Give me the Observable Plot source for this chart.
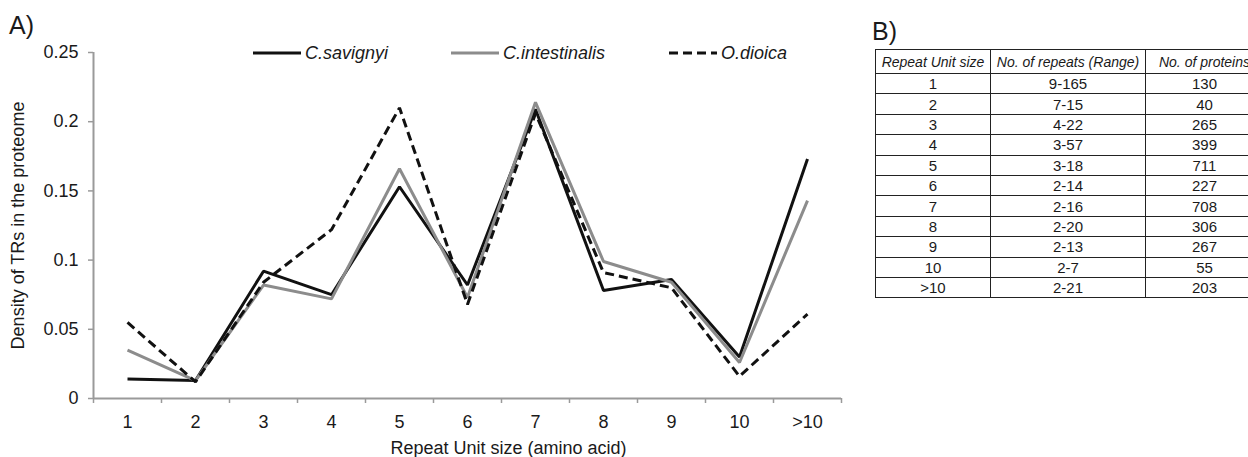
<!DOCTYPE html>
<html><head><meta charset="utf-8">
<script src="https://cdn.jsdelivr.net/npm/d3@7"></script>
<script src="https://cdn.jsdelivr.net/npm/@observablehq/plot@0.6"></script>
<style>
body{margin:0;background:#fff;font-family:"Liberation Sans",Arial,sans-serif;}
#wrap{position:relative;width:1248px;height:457px;overflow:hidden;background:#fff;}
#wrap svg.plot{position:absolute;left:0;top:0;}
.panel{position:absolute;font-size:25px;color:#1a1a1a;line-height:1;}
.leg{position:absolute;top:43px;height:20px;display:flex;align-items:center;font-size:18px;font-style:italic;color:#1a1a1a;white-space:nowrap;}
.leg svg{margin-right:4px;}
table{position:absolute;left:875px;top:49px;width:388px;border-collapse:collapse;font-size:15px;color:#1a1a1a;table-layout:fixed;}
td,th{border:1.5px solid #222;text-align:center;padding:0;white-space:nowrap;overflow:hidden;}
th{font-weight:normal;font-style:italic;font-size:14px;height:23px;}
td{height:19.4px;line-height:19px;}
</style></head><body><div id="wrap"></div>
<script>
const categories = ["1","2","3","4","5","6","7","8","9","10",">10"];
const savignyi = [0.014,0.013,0.092,0.075,0.153,0.082,0.209,0.078,0.086,0.030,0.173];
const intestinalis = [0.035,0.013,0.082,0.072,0.166,0.073,0.214,0.099,0.084,0.026,0.143];
const dioica = [0.055,0.012,0.084,0.122,0.210,0.068,0.206,0.091,0.080,0.016,0.061];
const seriesNames = ["C.savignyi","C.intestinalis","O.dioica"];
const yTicks = [0,0.05,0.1,0.15,0.2,0.25];
const xTitle = "Repeat Unit size (amino acid)";
const yTitle = "Density of TRs in the proteome";
const tableHeader = ["Repeat Unit size","No. of repeats (Range)","No. of proteins"];
const tableUnit = ["1","2","3","4","5","6","7","8","9","10",">10"];
const tableRange = ["9-165","7-15","4-22","3-57","3-18","2-14","2-16","2-20","2-13","2-7","2-21"];
const tableProteins = ["130","40","265","399","711","227","708","306","267","55","203"];

const seriesValues = [savignyi, intestinalis, dioica];
const seriesStyle = [
  {stroke:"#111", strokeWidth:3},
  {stroke:"#8c8c8c", strokeWidth:3},
  {stroke:"#111", strokeWidth:3, strokeDasharray:"9,5"}
];
const rows = seriesNames.flatMap((s,k) => categories.map((c,i) => ({series:s, idx:i+1, value:seriesValues[k][i]})));
const n = categories.length;
const font = '"Liberation Sans", Arial, sans-serif';

const plot = Plot.plot({
  width: 860, height: 457,
  marginLeft: 93, marginRight: 19, marginTop: 52, marginBottom: 59,
  style: {fontFamily: font, fontSize: "18px", background: "transparent", color: "#1a1a1a"},
  x: {type: "linear", domain: [0.5, n + 0.5], axis: null},
  y: {domain: [0, 0.25], axis: null},
  marks: [
    Plot.axisY({ticks: yTicks, tickSize: 5, color: "#9a9a9a", strokeWidth: 1.5, tickFormat: () => "", label: null}),
    Plot.axisY({ticks: yTicks, tickSize: 0, tickPadding: 15, color: "#1a1a1a", tickFormat: d3.format("~g"), label: null, fontSize: 18}),
    Plot.axisX({ticks: d3.range(0.5, n + 1), tickSize: 5, color: "#9a9a9a", strokeWidth: 1.5, tickFormat: () => "", label: null}),
    Plot.axisX({ticks: d3.range(1, n + 1), tickSize: 0, tickPadding: 17, color: "#1a1a1a", tickFormat: i => categories[i - 1], label: null, fontSize: 18}),
    Plot.ruleY([0], {stroke: "#9a9a9a", strokeWidth: 2}),
    Plot.ruleX([0.5], {stroke: "#9a9a9a", strokeWidth: 2}),
    ...seriesNames.map((s,k) => Plot.line(rows.filter(d => d.series === s), {x: "idx", y: "value", ...seriesStyle[k], strokeLinejoin: "miter", strokeLinecap: "butt"})),
    Plot.text([yTitle], {frameAnchor: "left", textAnchor: "middle", rotate: -90, dx: -75, fontSize: 18, fill: "#1a1a1a"}),
    Plot.text([xTitle], {frameAnchor: "bottom", textAnchor: "middle", lineAnchor: "middle", dx: 41, dy: 50, fontSize: 18, fill: "#1a1a1a"})
  ]
});
plot.classList.add("plot");
const wrap = document.getElementById("wrap");
wrap.appendChild(plot);

// panel labels
const a = document.createElement("div"); a.className = "panel"; a.textContent = "A)"; a.style.left = "9px"; a.style.top = "13px"; wrap.appendChild(a);
const b = document.createElement("div"); b.className = "panel"; b.textContent = "B)"; b.style.left = "872px"; b.style.top = "19px"; wrap.appendChild(b);

// legend
const legPos = [253, 451, 669];
seriesNames.forEach((s,k) => {
  const d = document.createElement("div"); d.className = "leg"; d.style.left = legPos[k] + "px";
  const st = seriesStyle[k];
  d.innerHTML = `<svg width="48" height="20"><line x1="0" x2="48" y1="10" y2="10" stroke="${st.stroke}" stroke-width="${st.strokeWidth}" ${st.strokeDasharray ? `stroke-dasharray="${st.strokeDasharray}"` : ""}/></svg><span>${s}</span>`;
  wrap.appendChild(d);
});

// table
const t = document.createElement("table");
const colW = [115, 155, 118];
let html = "<colgroup>" + colW.map(w => `<col style="width:${w}px">`).join("") + "</colgroup>";
html += "<tr>" + tableHeader.map(h => `<th>${h}</th>`).join("") + "</tr>";
tableUnit.forEach((u,i) => { html += `<tr><td>${u.replace(">","&gt;")}</td><td>${tableRange[i]}</td><td>${tableProteins[i]}</td></tr>`; });
t.innerHTML = html;
wrap.appendChild(t);
</script></body></html>
